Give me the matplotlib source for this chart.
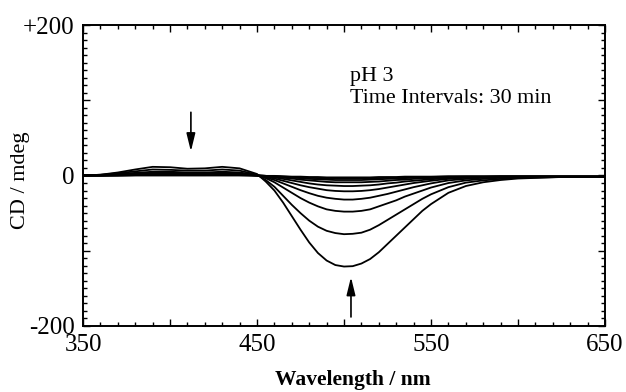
import matplotlib
matplotlib.use("Agg")
import matplotlib.pyplot as plt
from matplotlib.ticker import MultipleLocator, FuncFormatter

plt.rcParams["font.family"] = ["Liberation Serif", "DejaVu Serif"]

# wavelength grid (nm) shared by all scans
wavelength = [350, 360, 370, 380, 390, 400, 410, 420, 430, 440, 450, 455, 460,
              465, 470, 475, 480, 485, 490, 495, 500, 505, 510, 515, 520, 525,
              530, 535, 540, 545, 550, 560, 570, 580, 590, 600, 625, 650]

# CD (mdeg), one scan every 30 min
scan_01 = [0, 1, 4, 8, 11.5, 11, 9, 9.5, 11.5, 9.5, 2, -8, -20, -36, -54, -72,
           -89, -103, -113, -119, -121, -120.5, -117, -111, -102, -91, -80,
           -69, -58, -47, -38, -23, -14, -9, -6, -4, -2, -2]
scan_02 = [0, 1, 3, 5.5, 8, 7.5, 6.5, 6.5, 8, 6.5, 1, -6, -15, -27, -39, -50,
           -60, -68, -73.5, -76.5, -78, -77.5, -76, -72, -66, -59, -52, -45,
           -38, -31, -25, -15.5, -9.5, -6.5, -4.5, -3, -2, -2]
scan_03 = [0, 0.5, 2, 3.5, 5, 5, 4, 4, 5, 4, 0.5, -3.5, -9, -16, -23, -30, -36,
           -41, -45, -47, -48, -48, -47, -45, -41, -37, -33, -28, -24, -20,
           -16, -10, -6.5, -4.5, -3, -2.5, -2, -2]
scan_04 = [0, 0.5, 1.5, 2.5, 3.5, 3.5, 3, 3, 3.5, 3, 0.5, -2.5, -6, -10.5, -15,
           -19.5, -23.5, -27, -29.5, -31, -32, -32, -31, -29.5, -27, -24.5,
           -21.5, -18.5, -15.5, -13, -10.5, -6.5, -4.5, -3, -2.5, -2, -2, -2]
scan_05 = [0, 0, 1, 2, 2.5, 2.5, 2, 2, 2.5, 2, 0, -1.5, -4, -7, -10, -13, -15.5,
           -17.5, -19.5, -20.5, -21, -21, -20.5, -19.5, -18, -16, -14, -12, -10,
           -8.5, -7, -4.5, -3, -2.5, -2, -2, -2, -2]
scan_06 = [0, 0, 0.5, 1.5, 2, 2, 1.5, 1.5, 2, 1.5, 0, -1, -2.5, -4.5, -6.5, -8.5,
           -10.5, -12, -13, -13.5, -14, -14, -13.5, -13, -12, -10.5, -9.5, -8,
           -7, -6, -5, -3.5, -2.5, -2, -2, -2, -2, -2]
scan_07 = [0, 0, 0.5, 1, 1.5, 1.5, 1, 1, 1.5, 1, 0, -0.5, -1.5, -3, -4, -5.5,
           -6.5, -7.5, -8.5, -9, -9, -9, -9, -8.5, -8, -7, -6, -5.5, -4.5, -4,
           -3.5, -2.5, -2, -2, -1.5, -1.5, -1.5, -1.5]
scan_08 = [0, 0, 0, 0.5, 1, 1, 0.5, 0.5, 1, 0.5, 0, -0.5, -1, -2, -3, -3.5, -4.5,
           -5, -5.5, -6, -6, -6, -6, -5.5, -5, -4.5, -4, -3.5, -3, -2.5, -2.5,
           -2, -1.5, -1.5, -1.5, -1.5, -1.5, -1.5]
scan_09 = [0, 0, 0, 0.5, 0.5, 0.5, 0.5, 0.5, 0.5, 0.5, 0, -0.5, -1, -1.5, -2,
           -2.5, -3, -3.5, -3.5, -4, -4, -4, -4, -3.5, -3.5, -3, -3, -2.5, -2,
           -2, -2, -1.5, -1.5, -1.5, -1, -1, -1, -1]
scan_10 = [0, 0, 0, 0, 0, 0, 0, 0, 0, 0, 0, -0.5, -0.5, -1, -1.5, -1.5, -2, -2,
           -2.5, -2.5, -2.5, -2.5, -2.5, -2.5, -2, -2, -2, -1.5, -1.5, -1.5,
           -1.5, -1, -1, -1, -1, -1, -1, -1]

scans = [scan_01, scan_02, scan_03, scan_04, scan_05,
         scan_06, scan_07, scan_08, scan_09, scan_10]

y_labels = {200: "+200", 0: "0", -200: "-200"}
x_labels = [350, 450, 550, 650]

fig = plt.figure(figsize=(6.26, 3.92), dpi=100)
ax = fig.add_axes([0.1326, 0.1684, 0.8339, 0.7678])

for s in scans:
    ax.plot(wavelength, s, color="black", lw=1.3)

ax.set_xlim(350, 650)
ax.set_ylim(-200, 200)

ax.xaxis.set_major_locator(MultipleLocator(50))
ax.xaxis.set_minor_locator(MultipleLocator(10))
ax.yaxis.set_major_locator(MultipleLocator(100))
ax.yaxis.set_minor_locator(MultipleLocator(10))
ax.xaxis.set_major_formatter(FuncFormatter(
    lambda v, p: str(int(round(v))) if int(round(v)) in x_labels else ""))
ax.yaxis.set_major_formatter(FuncFormatter(
    lambda v, p: y_labels.get(int(round(v)), "")))

ax.tick_params(which="both", direction="in", top=True, right=True,
               labelsize=18, width=1.0, pad=6)
ax.tick_params(which="major", length=5)
ax.tick_params(which="minor", length=3)
for sp in ax.spines.values():
    sp.set_linewidth(1.4)

ax.set_xlabel("Wavelength / nm", fontsize=15.5, fontweight="bold")
ax.xaxis.set_label_coords(0.517, -0.178)
ax.xaxis.label.set_va("center")
ax.set_ylabel("CD / mdeg", fontsize=16)
ax.yaxis.set_label_coords(-0.119, 0.485)
ax.yaxis.label.set_va("center")

ax.text(503.5, 131, "pH 3", fontsize=15.8, ha="left", va="center")
ax.text(503.5, 102, "Time Intervals: 30 min", fontsize=15.8, ha="left", va="center")

arrow = dict(arrowstyle="-|>,head_width=0.22,head_length=0.9", color="black",
             lw=1.2, mutation_scale=12, shrinkA=0, shrinkB=0)
ax.annotate("", xy=(412, 32), xytext=(412, 84), arrowprops=arrow)
ax.annotate("", xy=(504, -135), xytext=(504, -188), arrowprops=arrow)

fig.savefig("out.png", dpi=100)
